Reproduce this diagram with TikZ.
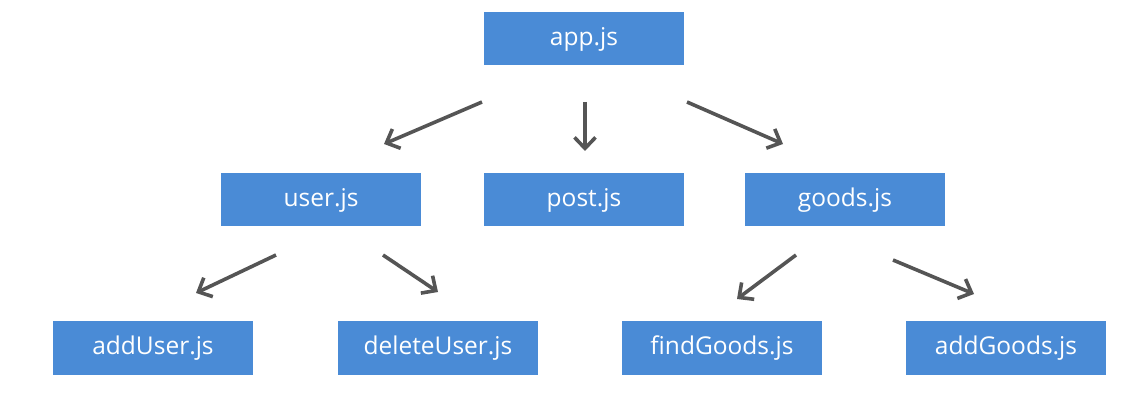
\documentclass[tikz,border=0pt]{standalone}
\usepackage{fontspec}
\setmainfont{Open Sans}
\usetikzlibrary{arrows.meta}
\definecolor{boxblue}{RGB}{74,139,214}
\definecolor{arrowgray}{RGB}{85,85,85}
\begin{document}
\begin{tikzpicture}[x=1pt,y=-1pt,
  modbox/.style={fill=boxblue, draw=none, minimum width=200pt, minimum height=53pt,
    inner sep=0pt, text=white, font=\fontsize{24.5}{28}\selectfont},
  link/.style={draw=arrowgray, line width=3.6pt,
    -{Straight Barb[length=11pt, width=21pt, line width=3.6pt]}}]
\useasboundingbox (0,0) rectangle (1140,411);
% modules
\node[modbox] (app) at (584,39) {app.js};
\node[modbox] (user) at (321,200) {user.js};
\node[modbox] (post) at (584,200) {post.js};
\node[modbox] (goods) at (845,200) {goods.js};
\node[modbox] (adduser) at (153,348) {addUser.js};
\node[modbox] (deleteuser) at (438,348) {deleteUser.js};
\node[modbox] (findgoods) at (722,348) {findGoods.js};
\node[modbox] (addgoods) at (1006,348) {addGoods.js};
% arrow end points
\coordinate (a1s) at (482,102); \coordinate (a1e) at (384,144);
\coordinate (a2s) at (585,102); \coordinate (a2e) at (585,151);
\coordinate (a3s) at (687,102); \coordinate (a3e) at (783,144);
\coordinate (u1s) at (276,255); \coordinate (u1e) at (196,293);
\coordinate (u2s) at (383,255); \coordinate (u2e) at (438,292);
\coordinate (g1s) at (796,255); \coordinate (g1e) at (737,299);
\coordinate (g2s) at (893,260); \coordinate (g2e) at (974,294);
\draw[link] (a1s) -- (a1e);
\draw[link] (a2s) -- (a2e);
\draw[link] (a3s) -- (a3e);
\draw[link] (u1s) -- (u1e);
\draw[link] (u2s) -- (u2e);
\draw[link] (g1s) -- (g1e);
\draw[link] (g2s) -- (g2e);
\end{tikzpicture}
\end{document}
